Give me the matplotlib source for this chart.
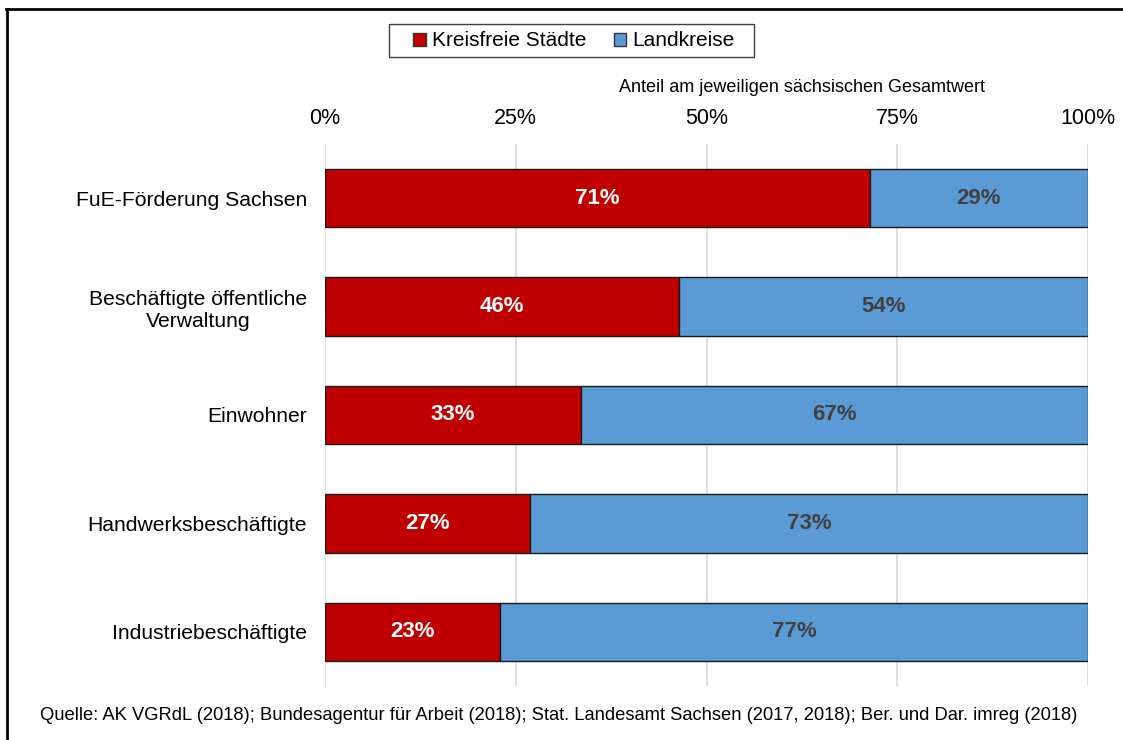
import numpy as np
import matplotlib
matplotlib.use("Agg")
from matplotlib import pyplot as plt
from matplotlib.lines import Line2D
from matplotlib.patches import Patch, Rectangle

plt.rcParams['font.family'] = ['Liberation Sans', 'DejaVu Sans']

categories = [
    "FuE-Förderung Sachsen",
    "Beschäftigte öffentliche\nVerwaltung",
    "Einwohner",
    "Handwerksbeschäftigte",
    "Industriebeschäftigte",
]
# share of the Saxon total (%)
staedte = np.array([71.4, 46.4, 33.5, 26.9, 23.0])
landkreise = 100 - staedte
staedte_labels = ["71%", "46%", "33%", "27%", "23%"]
landkreise_labels = ["29%", "54%", "67%", "73%", "77%"]
ticks = [0, 25, 50, 75, 100]
tick_labels = ["0%", "25%", "50%", "75%", "100%"]

red = "#C00000"
blue = "#5B9BD5"

W, H = 1123, 740
fig = plt.figure(figsize=(W / 100, H / 100), dpi=100)
ax = fig.add_axes([325 / W, 1 - 686 / H, 763 / W, 542 / H])

y = np.arange(len(categories))
ax.barh(y, staedte, height=0.54, color=red, edgecolor="#1a1a1a", linewidth=1.0, zorder=3)
ax.barh(y, landkreise, left=staedte, height=0.54, color=blue, edgecolor="#1a1a1a", linewidth=1.0, zorder=3)

for i in range(len(categories)):
    ax.text(staedte[i] / 2, y[i], staedte_labels[i], ha="center", va="center",
            color="white", fontsize=16, fontweight="bold", zorder=4)
    ax.text(staedte[i] + landkreise[i] / 2, y[i], landkreise_labels[i], ha="center", va="center",
            color="#404040", fontsize=16, fontweight="bold", zorder=4)

ax.set_xlim(0, 100)
ax.set_ylim(len(categories) - 0.5, -0.5)
ax.set_yticks(y)
ax.set_yticklabels(categories, fontsize=15.2, ha="right", multialignment="center")
ax.tick_params(axis="y", length=0, pad=13)
ax.xaxis.tick_top()
ax.set_xticks(ticks)
ax.set_xticklabels(tick_labels, fontsize=15.5)
ax.tick_params(axis="x", length=0, pad=11)
ax.grid(axis="x", color="#D9D9D9", linewidth=1.2, zorder=0)
for s in ax.spines.values():
    s.set_visible(False)

# legend, frame drawn separately so the box size matches
handles = [Patch(facecolor=red, edgecolor="#333333"), Patch(facecolor=blue, edgecolor="#333333")]
leg = fig.legend(handles, ["Kreisfreie Städte", "Landkreise"], loc="center",
                 bbox_to_anchor=(574 / W, 1 - 41 / H), ncol=2, fontsize=15,
                 frameon=False, handlelength=0.6, handleheight=0.6, handletextpad=0.3,
                 columnspacing=1.3, borderpad=0.3)
fig.add_artist(Rectangle((389 / W, 1 - 57 / H), 365 / W, 33 / H, transform=fig.transFigure,
                         facecolor="none", edgecolor="#404040", linewidth=1.0))

fig.text(985 / W, 1 - 87 / H, "Anteil am jeweiligen sächsischen Gesamtwert",
         ha="right", va="center", fontsize=13)
fig.text(40 / W, 1 - 715 / H,
         "Quelle: AK VGRdL (2018); Bundesagentur für Arbeit (2018); Stat. Landesamt Sachsen (2017, 2018); Ber. und Dar. imreg (2018)",
         ha="left", va="center", fontsize=13.2)

fig.add_artist(Line2D([6 / W, 1], [1 - 9 / H, 1 - 9 / H], color="black", linewidth=2))
fig.add_artist(Line2D([7 / W, 7 / W], [0, 1 - 9 / H], color="black", linewidth=2))

fig.savefig("out.png", dpi=100)
